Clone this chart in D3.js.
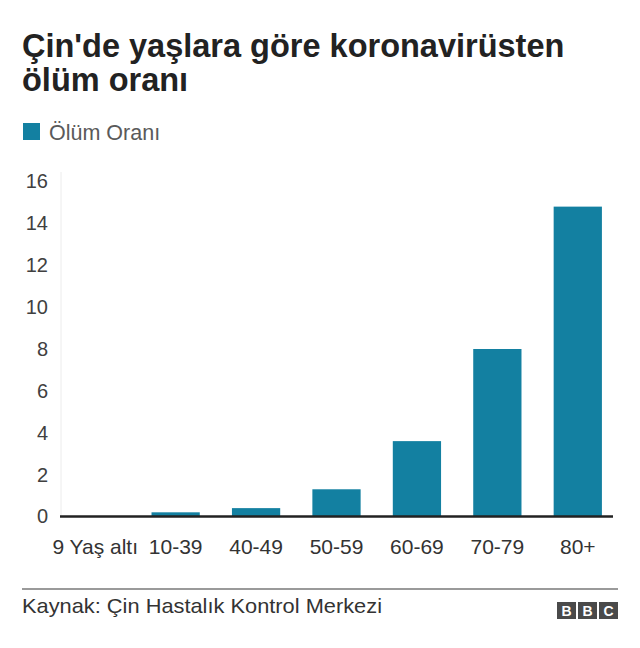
<!DOCTYPE html>
<html>
<head>
<meta charset="utf-8">
<script src="https://cdn.jsdelivr.net/npm/d3@7"></script>
<style>
  body { margin: 0; background: #fff; }
  text { font-family: "Liberation Sans", Arial, sans-serif; }
</style>
</head>
<body>
<svg id="chart"></svg>
<script>
const w = 640;
const h = 648;

// veriler
const kategoriler = ['9 Yaş altı', '10-39', '40-49', '50-59', '60-69', '70-79', '80+'];
const olumOrani = [0, 0.2, 0.4, 1.3, 3.6, 8.0, 14.8];
const yTicks = [0, 2, 4, 6, 8, 10, 12, 14, 16];
const baslik = ["Çin'de yaşlara göre koronavirüsten", 'ölüm oranı'];
const seriAdi = 'Ölüm Oranı';
const kaynak = 'Kaynak: Çin Hastalık Kontrol Merkezi';

const renk = '#1380A1';

const svg = d3.select('#chart')
  .attr('width', w)
  .attr('height', h);

// baslik
svg.append('g')
  .selectAll('text')
  .data(baslik)
  .enter()
  .append('text')
  .attr('x', 22)
  .attr('y', (d, i) => 57 + i * 34)
  .attr('font-size', 32.5)
  .attr('font-weight', 'bold')
  .attr('fill', '#222')
  .text(d => d);

// legend
svg.append('rect')
  .attr('x', 23)
  .attr('y', 123)
  .attr('width', 17)
  .attr('height', 17)
  .attr('fill', renk);
svg.append('text')
  .attr('x', 49)
  .attr('y', 140)
  .attr('font-size', 21.5)
  .attr('fill', '#5a5a5a')
  .text(seriAdi);

const escalaX = d3.scaleBand()
  .domain(kategoriler)
  .range([55, 618])
  .paddingInner(0.4)
  .paddingOuter(0.2);

const escalaY = d3.scaleLinear()
  .domain([0, 16])
  .range([516.5, 181.5]);

// ince dikey cizgi
svg.append('line')
  .attr('x1', 61).attr('x2', 61)
  .attr('y1', 172).attr('y2', 516)
  .attr('stroke', '#ececec')
  .attr('stroke-width', 1);

const ejeY = d3.axisLeft(escalaY)
  .tickValues(yTicks)
  .tickSize(0)
  .tickPadding(0);

svg.append('g')
  .attr('transform', 'translate(48, 0)')
  .call(ejeY)
  .call(g => g.select('.domain').remove())
  .selectAll('text')
  .attr('font-size', 20)
  .attr('font-family', '"Liberation Sans", Arial, sans-serif')
  .attr('fill', '#404040');

// barlar
svg.append('g')
  .selectAll('rect')
  .data(olumOrani)
  .enter()
  .append('rect')
  .attr('x', (d, i) => escalaX(kategoriler[i]))
  .attr('y', d => escalaY(d))
  .attr('width', escalaX.bandwidth())
  .attr('height', d => escalaY(0) - escalaY(d))
  .attr('fill', renk);

const ejeX = d3.axisBottom(escalaX)
  .tickSize(0)
  .tickPadding(23);

svg.append('g')
  .attr('transform', 'translate(0, ' + escalaY(0) + ')')
  .call(ejeX)
  .call(g => g.select('.domain').remove())
  .selectAll('text')
  .attr('font-size', 21)
  .attr('font-family', '"Liberation Sans", Arial, sans-serif')
  .attr('fill', '#333');

// taban cizgisi
svg.append('line')
  .attr('x1', 60)
  .attr('x2', 613)
  .attr('y1', escalaY(0))
  .attr('y2', escalaY(0))
  .attr('stroke', '#222')
  .attr('stroke-width', 2.5);

// alt bilgi
svg.append('line')
  .attr('x1', 22)
  .attr('x2', 618)
  .attr('y1', 589)
  .attr('y2', 589)
  .attr('stroke', '#9a9a9a')
  .attr('stroke-width', 2);

svg.append('text')
  .attr('x', 22)
  .attr('y', 613)
  .attr('font-size', 21)
  .attr('textLength', 360)
  .attr('lengthAdjust', 'spacingAndGlyphs')
  .attr('fill', '#333')
  .text(kaynak);

// BBC logo
const logo = svg.append('g').attr('transform', 'translate(557, 602)');
['B', 'B', 'C'].forEach((l, i) => {
  logo.append('rect')
    .attr('x', i * 21)
    .attr('y', 0)
    .attr('width', 19)
    .attr('height', 17)
    .attr('fill', '#4a4a4a');
  logo.append('text')
    .attr('x', i * 21 + 9.5)
    .attr('y', 14)
    .attr('text-anchor', 'middle')
    .attr('font-size', 14)
    .attr('font-weight', 'bold')
    .attr('fill', '#fff')
    .text(l);
});
</script>
</body>
</html>
